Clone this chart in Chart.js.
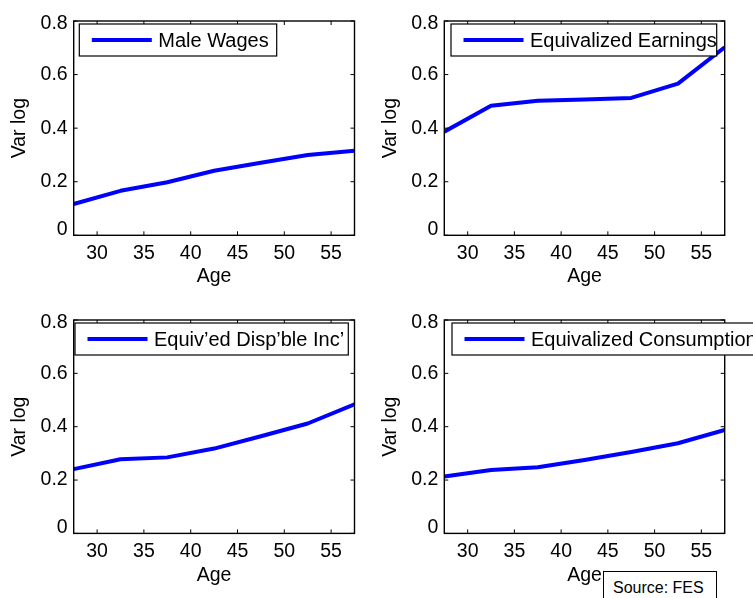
<!DOCTYPE html>
<html>
<head>
<meta charset="utf-8">
<script src="https://cdn.jsdelivr.net/npm/chart.js@4"></script>
<style>
html,body{margin:0;padding:0;background:#fff;}
#wrap{position:relative;width:753px;height:598px;overflow:hidden;background:#fff;}
.panel{position:absolute;}
.panel canvas{display:block;}
#source{position:absolute;left:603px;top:571px;width:112px;height:40px;border:1px solid #000;background:#fff;}
#source span{position:absolute;left:9px;top:6.5px;font:16px/18px "Liberation Sans",Arial,sans-serif;color:#000;white-space:nowrap;}
</style>
</head>
<body>
<div id="wrap">
  <div class="panel" id="p0"><canvas id="c0"></canvas></div>
  <div class="panel" id="p1"><canvas id="c1"></canvas></div>
  <div class="panel" id="p2"><canvas id="c2"></canvas></div>
  <div class="panel" id="p3"><canvas id="c3"></canvas></div>
  <div id="source"><span>Source: FES</span></div>
</div>
<script>
// ---- data ----
const ages = [27.5, 32.5, 37.5, 42.5, 47.5, 52.5, 57.5];
const maleWages = [0.117, 0.166, 0.198, 0.241, 0.271, 0.300, 0.316];
const equivEarnings = [0.387, 0.484, 0.502, 0.507, 0.513, 0.566, 0.702];
const equivDispInc = [0.241, 0.278, 0.285, 0.318, 0.364, 0.412, 0.484];
const equivConsumption = [0.213, 0.238, 0.248, 0.275, 0.305, 0.338, 0.388];
const seriesLabels = ['Male Wages', 'Equivalized Earnings', 'Equiv\u2019ed Disp\u2019ble Inc\u2019', 'Equivalized Consumption'];
const xTicks = [30, 35, 40, 45, 50, 55];
const xTickLabels = ['30', '35', '40', '45', '50', '55'];
const yTicks = [0, 0.2, 0.4, 0.6, 0.8];
const yTickLabels = ['0', '0.2', '0.4', '0.6', '0.8'];
const xRange = [27.5, 57.5];
const yRange = [0, 0.8];
const xTitle = 'Age';
const yTitle = 'Var log';

// ---- layout (positions/styles) ----
const layout = [
  {left:0,   top:0,   width:376, height:299, plot:{l:73.7,  t:21,  r:354.5, b:235.3}, leg:{l:79.3, r:276.7}},
  {left:376, top:0,   width:377, height:299, plot:{l:444.3, t:21,  r:724.7, b:235.3}, leg:{l:451,  r:716.7}},
  {left:0,   top:299, width:376, height:299, plot:{l:73.7,  t:320, r:354.5, b:533.4}, leg:{l:75,   r:348.3}},
  {left:376, top:299, width:377, height:299, plot:{l:444.3, t:320, r:724.7, b:533.4}, leg:{l:452,  r:800}}
];
const seriesValues = [maleWages, equivEarnings, equivDispInc, equivConsumption];
const FONT = '"Liberation Sans", Arial, Helvetica, sans-serif';
const tickFont = {family: FONT, size: 19.5, lineHeight: 1.2};
const legFontSize = 20;
// MATLAB nudges the end labels of the y axis inward
const yEndShift = {first: 6, last: 2.3};

const matlabFrame = {
  id: 'matlabFrame',
  afterDraw(chart, args, opts) {
    const {ctx, chartArea: a, scales: {x, y}} = chart;
    ctx.save();
    ctx.strokeStyle = '#000';
    ctx.lineWidth = 1;
    const tl = 4;
    ctx.beginPath();
    x.ticks.forEach(t => {
      const px = x.getPixelForValue(t.value);
      ctx.moveTo(px, a.bottom); ctx.lineTo(px, a.bottom - tl);
      ctx.moveTo(px, a.top); ctx.lineTo(px, a.top + tl);
    });
    y.ticks.forEach(t => {
      const py = y.getPixelForValue(t.value);
      ctx.moveTo(a.left, py); ctx.lineTo(a.left + tl, py);
      ctx.moveTo(a.right, py); ctx.lineTo(a.right - tl, py);
    });
    ctx.stroke();
    ctx.lineWidth = 1.4;
    ctx.strokeRect(a.left, a.top, a.right - a.left, a.bottom - a.top);
    // legend box
    const L = opts.legLeft - opts.offX, R = opts.legRight - opts.offX;
    const T = a.top + 3, H = 32;
    ctx.fillStyle = '#fff';
    ctx.fillRect(L, T, R - L, H);
    ctx.lineWidth = 1.2;
    ctx.strokeStyle = '#000';
    ctx.strokeRect(L, T, R - L, H);
    const ds = chart.data.datasets[0];
    const cy = T + H / 2;
    ctx.strokeStyle = ds.borderColor;
    ctx.lineWidth = ds.borderWidth;
    ctx.beginPath();
    ctx.moveTo(L + 12.5, cy); ctx.lineTo(L + 72.5, cy);
    ctx.stroke();
    ctx.fillStyle = '#000';
    ctx.font = legFontSize + 'px ' + FONT;
    ctx.textBaseline = 'middle';
    ctx.textAlign = 'left';
    ctx.fillText(ds.label, L + 79, cy + 1);
    ctx.restore();
  }
};

layout.forEach((lay, i) => {
  const div = document.getElementById('p' + i);
  div.style.left = lay.left + 'px';
  div.style.top = lay.top + 'px';
  div.style.width = lay.width + 'px';
  div.style.height = lay.height + 'px';
  const cv = document.getElementById('c' + i);
  cv.width = lay.width; cv.height = lay.height;
  cv.style.width = lay.width + 'px'; cv.style.height = lay.height + 'px';
  const p = lay.plot;
  const yAxisW = p.l - lay.left;
  const xAxisH = lay.top + lay.height - p.b;
  const yTitlePad = (yAxisW - 54) - tickFont.size * tickFont.lineHeight / 2;
  new Chart(cv, {
    type: 'line',
    data: {
      datasets: [{
        label: seriesLabels[i],
        data: ages.map((a, k) => ({x: a, y: seriesValues[i][k]})),
        borderColor: '#0000ff',
        borderWidth: 4,
        pointRadius: 0,
        tension: 0,
        fill: false,
        borderJoinStyle: 'round',
        borderCapStyle: 'butt',
        clip: 0
      }]
    },
    options: {
      responsive: false,
      animation: false,
      devicePixelRatio: 1,
      layout: {padding: {top: p.t - lay.top, right: lay.left + lay.width - p.r, left: 0, bottom: 0}},
      plugins: {
        legend: {display: false},
        tooltip: {enabled: false},
        matlabFrame: {legLeft: lay.leg.l, legRight: lay.leg.r, offX: lay.left}
      },
      scales: {
        x: {
          type: 'linear',
          min: xRange[0], max: xRange[1],
          grid: {display: false, drawTicks: false},
          border: {display: false},
          afterBuildTicks: s => { s.ticks = xTicks.map(v => ({value: v})); },
          afterFit: s => { s.height = xAxisH; },
          ticks: {
            font: tickFont, color: '#000', padding: 6.3, autoSkip: false,
            maxRotation: 0, minRotation: 0,
            callback: (v, idx) => xTickLabels[idx]
          },
          title: {display: true, text: xTitle, color: '#000', font: tickFont, padding: {top: 0, bottom: 11}}
        },
        y: {
          type: 'linear',
          min: yRange[0], max: yRange[1],
          grid: {display: false, drawTicks: false},
          border: {display: false},
          afterBuildTicks: s => { s.ticks = yTicks.map(v => ({value: v})); },
          afterFit: s => { s.width = yAxisW; },
          ticks: {
            color: '#000', padding: 6, autoSkip: false,
            font: c => {
              const n = yTicks.length;
              if (c.index === 0) return Object.assign({}, tickFont, {lineHeight: (2 * yEndShift.first) + 'px'});
              if (c.index === n - 1) return Object.assign({}, tickFont, {lineHeight: (2 * yEndShift.last) + 'px'});
              return tickFont;
            },
            callback: (v, idx) => {
              const n = yTicks.length;
              if (idx === 0) return [yTickLabels[idx], ''];
              if (idx === n - 1) return ['', yTickLabels[idx]];
              return yTickLabels[idx];
            }
          },
          title: {display: true, text: yTitle, color: '#000', font: tickFont, padding: {top: yTitlePad, bottom: 0}}
        }
      }
    },
    plugins: [matlabFrame]
  });
});
</script>
</body>
</html>
